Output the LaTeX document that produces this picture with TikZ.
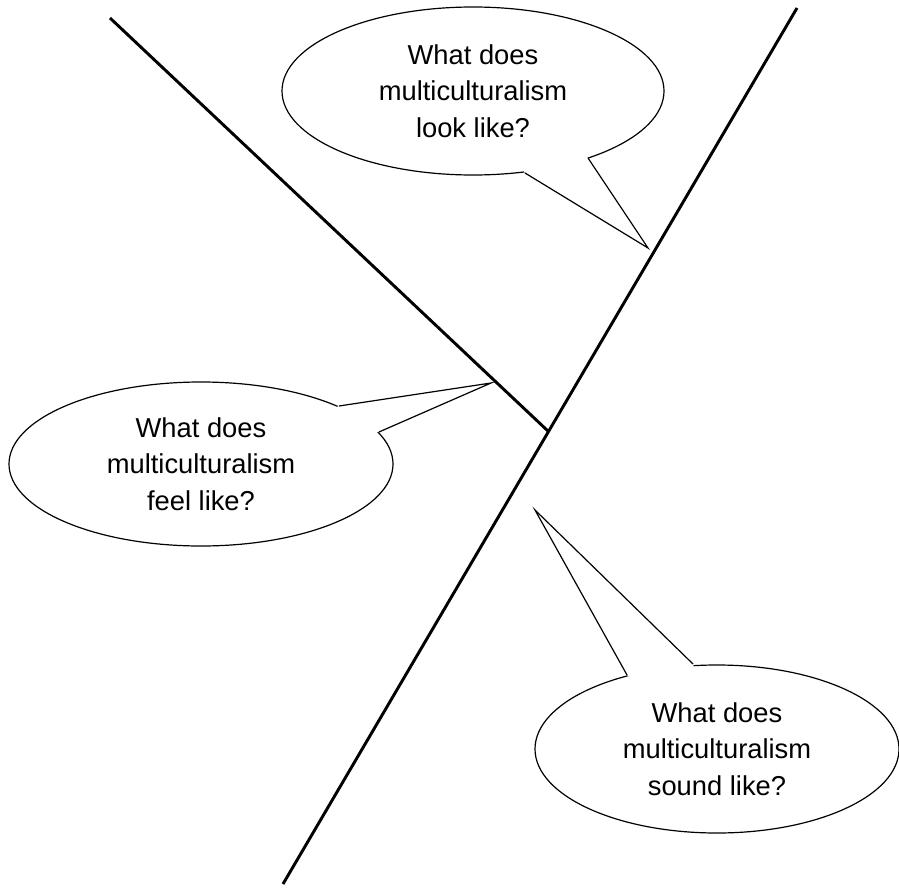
\documentclass[tikz,border=0pt]{standalone}
\usepackage{fontspec}
\setmainfont{Liberation Sans}
\usetikzlibrary{shapes.geometric,calc}
\begin{document}
\begin{tikzpicture}[x=0.75pt,y=-0.75pt,
  bigline/.style={line width=2.2pt,line cap=butt},
  bubble/.style={ellipse,draw,fill=white,line width=0.9pt,inner sep=0pt,align=center,
    font=\fontsize{20.5}{27.5}\selectfont},
  tailfill/.style={fill=white,draw=none},
  tailline/.style={line width=0.9pt,line join=miter}]
\useasboundingbox (0,0) rectangle (899,888);
% main lines
\coordinate (LA) at (797,8);
\coordinate (LB) at (283,884);
\coordinate (SA) at (110,18);
\coordinate (SB) at (549,432);
\draw[bigline] (LA) -- (LB);
\draw[bigline] (SA) -- (SB);
% bubbles
\node[bubble,minimum width=286.5pt,minimum height=126pt] (look) at (473,91) {What does\\multiculturalism\\look like?};
\node[bubble,minimum width=288pt,minimum height=123pt] (feel) at (201,464) {What does\\multiculturalism\\feel like?};
\node[bubble,minimum width=273pt,minimum height=126pt] (sound) at (717,749) {What does\\multiculturalism\\sound like?};
% tails
\coordinate (lookA) at (525,173); \coordinate (lookT) at (648,248); \coordinate (lookB) at (588,158);
\coordinate (feelA) at (339,406); \coordinate (feelT) at (491,383); \coordinate (feelB) at (379,432);
\coordinate (soundA) at (627,675); \coordinate (soundT) at (535,510); \coordinate (soundB) at (693,664);
\foreach \n in {look,feel,sound}{
  \fill[tailfill] ($(\n A)!4pt!(\n.center)$) -- (\n A) -- (\n T) -- (\n B) -- ($(\n B)!4pt!(\n.center)$) -- cycle;
  \draw[tailline] (\n A) -- (\n T) -- (\n B);
}
\end{tikzpicture}
\end{document}
